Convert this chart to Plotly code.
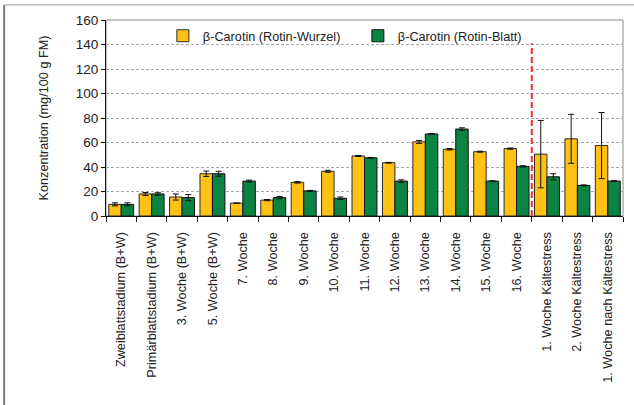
import plotly.graph_objects as go

# categories (x axis)
stages = [
    "Zweiblattstadium (B+W)", "Primärblattstadium (B+W)", "3. Woche (B+W)",
    "5. Woche (B+W)", "7. Woche", "8. Woche", "9. Woche", "10. Woche",
    "11. Woche", "12. Woche", "13. Woche", "14. Woche", "15. Woche",
    "16. Woche", "1. Woche Kältestress", "2. Woche Kältestress",
    "1. Woche nach Kältestress",
]

# beta-carotene, mg/100 g FM
wurzel = [9.5, 18, 15.5, 34.5, 10.5, 13, 27.5, 36.5, 49, 43.5, 60.5, 54.5, 52.5, 55, 50.5, 63, 57.5]
wurzel_err = [1.2, 1.2, 2.5, 2.2, 0, 0.5, 0.6, 0.8, 0.4, 0.3, 1.2, 0.6, 0.4, 0.5, 27.5, 20, 27]
blatt = [9.5, 18, 15, 34.5, 28.5, 15, 20.5, 14.5, 47.5, 28.5, 67, 71, 28.5, 40.5, 32, 25, 28.5]
blatt_err = [1.2, 1, 2.5, 2, 0.8, 1, 0.4, 1, 0.3, 1, 0.4, 1, 0.3, 0.5, 2.5, 0.4, 0.3]

y_ticks = [0, 20, 40, 60, 80, 100, 120, 140, 160]

yellow = "#FFC114"
green = "#0B8443"
font = "Liberation Sans, Arial, sans-serif"

fig = go.Figure()

fig.add_trace(go.Bar(
    x=stages, y=wurzel,
    name="β-Carotin (Rotin-Wurzel)",
    marker_color=yellow,
    marker_line=dict(color="#2a2a2a", width=1),
    error_y=dict(type="data", array=wurzel_err, color="#111", thickness=1, width=3),
))
fig.add_trace(go.Bar(
    x=stages, y=blatt,
    name="β-Carotin (Rotin-Blatt)",
    marker_color=green,
    marker_line=dict(color="#111", width=1),
    error_y=dict(type="data", array=blatt_err, color="#111", thickness=1, width=3),
))

# red dashed separator before the cold-stress samples
fig.add_shape(type="line", xref="x", yref="y", x0=13.5, x1=13.5, y0=0, y1=141,
              line=dict(color="#EE2C2C", width=2, dash="6px,3px"))

# plot-area frame (top/right in gray)
fig.add_shape(type="rect", xref="paper", yref="paper", x0=0, x1=1, y0=0, y1=1,
              line=dict(color="#8a8a8a", width=1), layer="below")

# outer chart frame (only left and top visible)
fig.add_shape(type="line", xref="paper", yref="paper", x0=-0.197, x1=-0.197, y0=-1.2, y1=1.077,
              line=dict(color="#7a7a7a", width=2))
fig.add_shape(type="line", xref="paper", yref="paper", x0=-0.197, x1=1.1, y0=1.077, y1=1.077,
              line=dict(color="#9a9a9a", width=1))

fig.update_layout(
    width=634, height=405,
    margin=dict(l=106, r=11, t=20, b=189, autoexpand=False),
    paper_bgcolor="white", plot_bgcolor="white",
    font=dict(family=font, size=12.7, color="#222"),
    barmode="group", bargap=0.18, bargroupgap=0,
    showlegend=True,
    legend=dict(orientation="h", x=0.11, xanchor="left", y=0.995, yanchor="top",
                bgcolor="rgba(0,0,0,0)", font=dict(size=12.7), itemwidth=30,
                entrywidth=150, entrywidthmode="pixels", tracegroupgap=0),
)

fig.update_xaxes(
    type="category", tickangle=-90, tickson="boundaries",
    ticks="outside", ticklen=5, tickcolor="#111", ticklabelstandoff=10,
    showline=True, linecolor="#111", linewidth=1,
    showgrid=False, automargin=False, tickfont=dict(size=12.7),
)
fig.update_yaxes(
    range=[0, 160], tickvals=y_ticks,
    ticks="outside", ticklen=4, tickcolor="#111",
    showline=True, linecolor="#111", linewidth=1,
    showgrid=True, gridcolor="#a8a8a8", gridwidth=1, griddash="3px,2px",
    zeroline=False, automargin=False, tickfont=dict(size=13.5),
    title=dict(text="Konzentration (mg/100 g FM)", font=dict(size=12.7), standoff=24),
)

# page body has a default 8px margin; remove it so the figure sits at the window origin
fig.write_html("out.html", config={"displayModeBar": False},
               post_script="document.body.style.margin='0';")
